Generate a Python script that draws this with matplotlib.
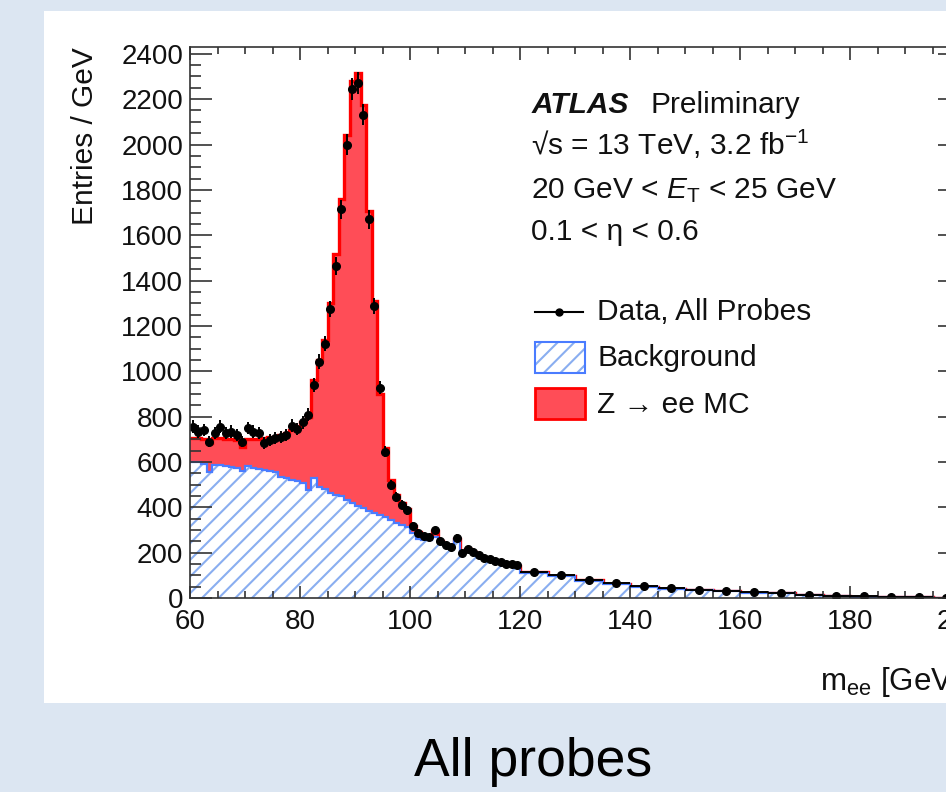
import numpy as np
import matplotlib
matplotlib.use('Agg')
import matplotlib.pyplot as plt
from matplotlib.patches import Rectangle
from matplotlib.lines import Line2D
from matplotlib.ticker import MultipleLocator

plt.rcParams['font.family'] = ['Liberation Sans', 'DejaVu Sans']
plt.rcParams['mathtext.fontset'] = 'custom'
plt.rcParams['mathtext.rm'] = 'Liberation Sans'
plt.rcParams['mathtext.it'] = 'Liberation Sans:italic'
plt.rcParams['mathtext.bf'] = 'Liberation Sans:bold'
plt.rcParams['hatch.linewidth'] = 1.5

HATCH_COL = '#8aaef0'
plt.rcParams['hatch.color'] = HATCH_COL

# ---------------- data ----------------
# bin edges: 1 GeV bins from 60 to 120, 5 GeV bins from 120 to 200
edges = np.concatenate([np.arange(60, 120, 1), np.arange(120, 201, 5)]).astype(float)

data_vals = [756, 734, 741, 690, 727, 756, 727, 734, 719, 690,
             749, 734, 727, 682, 697, 704, 711, 719, 760, 745,
             775, 808, 938, 1042, 1121, 1275, 1464, 1714, 2000, 2245,
             2270, 2132, 1670, 1288, 928, 646, 500, 445, 412, 386,
             316, 288, 272, 268, 298, 250, 232, 224, 265, 200,
             216, 205, 188, 178, 170, 163, 157, 152, 148, 144,
             116, 101, 80, 66, 51, 43, 37, 31, 25, 22, 14, 10, 7, 4, 3, 2]

bkg_vals = [600, 598, 590, 555, 588, 585, 582, 578, 575, 558,
            580, 572, 568, 565, 560, 556, 535, 528, 520, 515,
            506, 478, 528, 490, 480, 465, 455, 448, 432, 420,
            405, 395, 385, 375, 365, 358, 345, 330, 322, 315,
            285, 262, 256, 255, 268, 245, 232, 222, 258, 198,
            212, 200, 186, 176, 168, 160, 155, 150, 145, 140,
            112, 97, 77, 63, 50, 41, 34, 29, 24, 20, 13, 9, 6, 4, 2.5, 1.5]

zee_vals = [105, 107, 110, 127, 118, 121, 118, 122, 123, 109,
            120, 128, 134, 140, 150, 156, 183, 200, 220, 240,
            269, 322, 432, 560, 660, 835, 1061, 1310, 1612, 1858,
            1911, 1781, 1322, 935, 535, 302, 175, 125, 98, 77,
            33, 30, 19, 15, 27, 5, 3, 3, 2, 2,
            2, 2, 1, 1, 1, 1, 1, 1, 1, 1,
            1, 1, 0.5, 0.5, 0.5, 0.5, 0, 0, 0, 0, 0, 0, 0, 0, 0, 0]

x_ticks = [60, 80, 100, 120, 140, 160, 180, 200]
y_ticks = [0, 200, 400, 600, 800, 1000, 1200, 1400, 1600, 1800, 2000, 2200, 2400]

data = np.array(data_vals, float)
bkg = np.array(bkg_vals, float)
zee = np.array(zee_vals, float)
total = bkg + zee
widths = np.diff(edges)
centers = 0.5 * (edges[:-1] + edges[1:])
yerr = np.sqrt(data * widths) / widths

# ---------------- figure ----------------
W, H = 946, 792
BG = '#dce6f2'
fig = plt.figure(figsize=(W / 100, H / 100), dpi=100, facecolor=BG)

def fx(px):
    return px / W

def fy(py):
    return 1 - py / H

# white panel
fig.add_artist(Rectangle((fx(44), fy(703)), fx(W - 44) + 0.01, (703 - 11) / H,
                         transform=fig.transFigure, facecolor='white',
                         edgecolor='none', zorder=0))

ax = fig.add_axes([fx(190), fy(598), 770 / W, (598 - 47) / H])
ax.set_facecolor('none')

RED_FILL = '#ff4d57'
RED = '#ff0000'
BLUE = '#4a7cff'
TXTCOL = '#111111'

ax.stairs(total, edges, baseline=0, fill=True, facecolor=RED_FILL,
          edgecolor='none', linewidth=0, zorder=1.0)
ax.stairs(total, edges, baseline=None, color=RED, linewidth=2.4, zorder=1.1)
ax.stairs(bkg, edges, baseline=0, fill=True, facecolor='white',
          edgecolor=HATCH_COL, hatch='//', linewidth=0, zorder=1.2)
ax.stairs(bkg, edges, baseline=None, color=BLUE, linewidth=1.6, zorder=1.3)
ax.errorbar(centers, data, xerr=widths / 2, yerr=yerr, fmt='o', color='black',
            ms=5.5, lw=1.4, capsize=0, zorder=2.0)

ax.set_xlim(60, 200)
ax.set_ylim(0, 2430)
ax.set_xticks(x_ticks)
ax.set_yticks(y_ticks)
ax.xaxis.set_minor_locator(MultipleLocator(5))
ax.yaxis.set_minor_locator(MultipleLocator(50))
ax.tick_params(which='both', direction='in', top=True, right=True,
               color='#333333', width=1.2, labelsize=20, labelcolor=TXTCOL)
ax.tick_params(axis='y', which='major', length=16, pad=5)
ax.tick_params(axis='y', which='minor', length=8)
ax.tick_params(axis='x', which='major', length=9, pad=8)
ax.tick_params(axis='x', which='minor', length=5)
for s in ax.spines.values():
    s.set_color('#333333')
    s.set_linewidth(1.2)

ax.set_ylabel('Entries / GeV', fontsize=21.5, loc='top', color=TXTCOL)
ax.yaxis.set_label_coords(-0.118, 1.0)
ax.set_xlabel(r'm$_{\mathrm{ee}}$ [GeV]', fontsize=22.5, loc='right', color=TXTCOL)
ax.xaxis.set_label_coords(1.0, -0.122)

# ---------------- text block ----------------
TXT = 21.5
fig.text(fx(532), fy(113), 'ATLAS', fontsize=TXT, va='baseline', ha='left',
         fontweight='bold', fontstyle='italic', color=TXTCOL)
fig.text(fx(650), fy(113), 'Preliminary', fontsize=TXT, va='baseline', ha='left',
         color=TXTCOL)
fig.text(fx(531), fy(155), '√s = 13 TeV, 3.2 fb$^{-1}$', fontsize=TXT,
         va='baseline', ha='left', color=TXTCOL)
fig.text(fx(531), fy(198), r'20 GeV < $E_{\mathrm{T}}$ < 25 GeV', fontsize=TXT,
         va='baseline', ha='left', color=TXTCOL)
fig.text(fx(531), fy(240), '0.1 < η < 0.6', fontsize=TXT, va='baseline',
         ha='left', color=TXTCOL)

# legend
fig.add_artist(Line2D([fx(535), fx(583)], [fy(311.5), fy(311.5)], color='black',
                      lw=1.5, transform=fig.transFigure))
fig.add_artist(Line2D([fx(559)], [fy(311.5)], color='black', marker='o', ms=5,
                      transform=fig.transFigure))
fig.text(fx(597), fy(320), 'Data, All Probes', fontsize=TXT, va='baseline',
         ha='left', color=TXTCOL)
fig.add_artist(Rectangle((fx(535), fy(373)), 50 / W, 31 / H, transform=fig.transFigure,
                         facecolor='white', edgecolor=HATCH_COL, hatch='//', lw=0))
fig.add_artist(Rectangle((fx(535), fy(373)), 50 / W, 31 / H, transform=fig.transFigure,
                         facecolor='none', edgecolor=BLUE, lw=1.5))
fig.text(fx(597), fy(366), 'Background', fontsize=TXT, va='baseline', ha='left',
         color=TXTCOL)
fig.add_artist(Rectangle((fx(535), fy(419)), 50 / W, 31 / H, transform=fig.transFigure,
                         facecolor=RED_FILL, edgecolor=RED, lw=2.0))
fig.text(fx(597), fy(413), 'Z → ee MC', fontsize=TXT, va='baseline', ha='left',
         color=TXTCOL)

# caption
fig.text(fx(533), fy(776), 'All probes', fontsize=38.5, va='baseline', ha='center',
         color='black')

fig.savefig('out.png', dpi=100, facecolor=BG)
